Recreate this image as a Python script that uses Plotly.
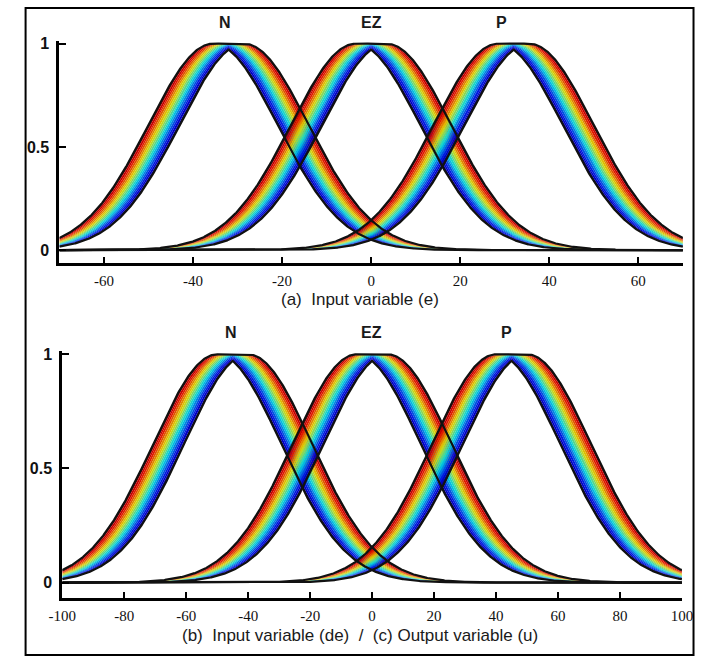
import numpy as np
import plotly.graph_objects as go

# ---- data ----
set_names = ["N", "EZ", "P"]
# panel (a): input variable e
a_range = [-70, 70]
a_centres = [-32, 0, 32]
a_sigma = 14.5
a_spread = 7.0          # width of the uncertain-mean interval
a_ticks = [-60, -40, -20, 0, 20, 40, 60]
a_ticklabels = ["-60", "-40", "-20", "0", "20", "40", "60"]
# panel (b)/(c): input de / output u
b_range = [-100, 100]
b_centres = [-45, 0, 45]
b_sigma = 20.7
b_spread = 10.0
b_ticks = [-100, -80, -60, -40, -20, 0, 20, 40, 60, 80, 100]
b_ticklabels = ["-100", "-80", "-60", "-40", "-20", "0", "20", "40", "60", "80", "100"]
y_ticks = [0, 0.5, 1]
y_ticklabels = ["0", "0.5", "1"]
caption_a = "(a)  Input variable (e)"
caption_b = "(b)  Input variable (de)  /  (c) Output variable (u)"

N_BANDS = 16
W, H = 719, 657


def jet(t):
    r = np.clip(1.5 - abs(4 * t - 3), 0, 1)
    g = np.clip(1.5 - abs(4 * t - 2), 0, 1)
    b = np.clip(1.5 - abs(4 * t - 1), 0, 1)
    return "rgb(%d,%d,%d)" % (r * 225, g * 215, b * 225)


def embedded(x, left_mean, right_mean, sigma):
    gl = np.exp(-np.minimum(x - left_mean, 0) ** 2 / (2 * sigma ** 2))
    gr = np.exp(-np.maximum(x - right_mean, 0) ** 2 / (2 * sigma ** 2))
    return np.minimum(gl, gr)


fig = go.Figure()


def add_panel(xr, centres, sigma, spread, xa, ya):
    x = np.linspace(xr[0], xr[1], 900)
    outlines = []
    for c in centres:
        m1, m2 = c - spread / 2, c + spread / 2
        for k in range(N_BANDS + 1):
            s = spread * k / N_BANDS
            y = embedded(x, m1 + s, m2 - s, sigma)
            t = 1 - (k - 0.5) / N_BANDS
            fig.add_trace(go.Scatter(
                x=x, y=y, mode="lines", xaxis=xa, yaxis=ya,
                line=dict(width=0, color="black"),
                fill=None if k == 0 else "tonexty",
                fillcolor=jet(min(max(t, 0), 1)),
                hoverinfo="skip", showlegend=False))
            if k == 0 or k == N_BANDS:
                outlines.append(y)
    for y in outlines:
        fig.add_trace(go.Scatter(
            x=x, y=y, mode="lines", xaxis=xa, yaxis=ya,
            line=dict(width=2.2, color="#111111"),
            hoverinfo="skip", showlegend=False))


add_panel(a_range, a_centres, a_sigma, a_spread, "x", "y")
add_panel(b_range, b_centres, b_sigma, b_spread, "x2", "y2")

tickfont_x = dict(family="Liberation Serif", size=15, color="#111111")
tickfont_y = dict(family="Liberation Sans", size=16, color="#111111")

common_x = dict(showgrid=False, zeroline=False, showline=True, linewidth=3,
                linecolor="black", ticks="inside", ticklen=6, tickwidth=2,
                tickcolor="black", tickfont=tickfont_x, ticklabelstandoff=2)
common_y = dict(showgrid=False, zeroline=False, showline=True, linewidth=3,
                linecolor="black", ticks="inside", ticklen=7, tickwidth=2,
                tickcolor="black", tickfont=tickfont_y, tickvals=y_ticks,
                ticktext=["<b>%s</b>" % t for t in y_ticklabels],
                ticklabelstandoff=4)

fig.update_layout(
    width=W, height=H, margin=dict(l=0, r=0, t=0, b=0),
    paper_bgcolor="white", plot_bgcolor="white", showlegend=False,
    xaxis=dict(domain=[47 / W, 693 / W], range=a_range, tickvals=a_ticks,
               ticktext=a_ticklabels, anchor="y", **common_x),
    yaxis=dict(domain=[(H - 260) / H, (H - 36) / H],
               range=[-13 / 208, 1 + 3 / 208], anchor="x", **common_y),
    xaxis2=dict(domain=[50 / W, 692 / W], range=b_range, tickvals=b_ticks,
                ticktext=b_ticklabels, anchor="y2", **common_x),
    yaxis2=dict(domain=[(H - 598) / H, (H - 349) / H],
                range=[-16 / 230, 1 + 3 / 230], anchor="x2", **common_y),
)

# frame around the whole figure
fig.add_shape(type="rect", xref="paper", yref="paper",
              x0=12 / W, x1=704 / W, y0=(H - 655) / H, y1=(H - 3) / H,
              line=dict(color="black", width=2))

lab_font = dict(family="Liberation Sans", size=16, color="#1a1a1a")
top_lab_px = [219, 370, 505]
bot_lab_px = [225, 370, 510]
for name, px in zip(set_names, top_lab_px):
    fig.add_annotation(text="<b>%s</b>" % name, x=px / W, y=1 - 18 / H,
                       xref="paper", yref="paper", showarrow=False,
                       font=lab_font, xanchor="center", yanchor="middle")
for name, px in zip(set_names, bot_lab_px):
    fig.add_annotation(text="<b>%s</b>" % name, x=px / W, y=1 - 330 / H,
                       xref="paper", yref="paper", showarrow=False,
                       font=lab_font, xanchor="center", yanchor="middle")

cap_font = dict(family="Liberation Sans", size=17, color="#1a1a1a")
fig.add_annotation(text=caption_a.replace("  ", "&nbsp; "), x=358 / W, y=1 - 297 / H,
                   xref="paper", yref="paper", showarrow=False, font=cap_font,
                   xanchor="center", yanchor="middle")
fig.add_annotation(text=caption_b.replace("  ", "&nbsp; "), x=358 / W, y=1 - 635 / H,
                   xref="paper", yref="paper", showarrow=False, font=cap_font,
                   xanchor="center", yanchor="middle")

fig.write_html("out.html")
